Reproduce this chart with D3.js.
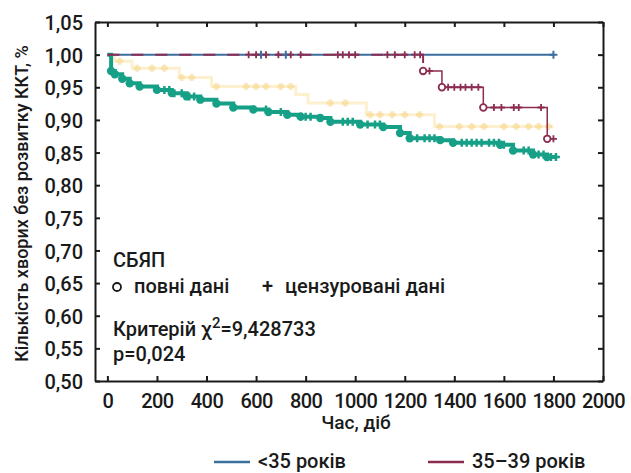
<!DOCTYPE html>
<html>
<head>
<meta charset="utf-8">
<script src="https://cdn.jsdelivr.net/npm/d3@7"></script>
<style>
  body { margin: 0; background: #fff; }
  svg { font-family: Roboto, "Noto Sans", sans-serif; font-weight: 500; }
  .axis path, .axis line { stroke: #1a1a1a; stroke-width: 2; }
  .axis text { font-size: 20px; fill: #1a1a1a; font-family: Roboto, sans-serif; font-weight: 500; }
  .label { fill: #1a1a1a; }
</style>
</head>
<body>
<script>
// data
const yTicks = [0.50, 0.55, 0.60, 0.65, 0.70, 0.75, 0.80, 0.85, 0.90, 0.95, 1.00, 1.05];
const xTicks = [0, 200, 400, 600, 800, 1000, 1200, 1400, 1600, 1800, 2000];

// <35 років
const blueTimes = [0, 1800];
const blueSurv = [1, 1];
const blueCens = [620, 720, 1800];

// 35-39 років
const redTimes = [0, 1274, 1350, 1517, 1775, 1800];
const redSurv = [1, 0.975, 0.95, 0.919, 0.871, 0.871];
const redEvents = [1274, 1350, 1517, 1775];
const redCens = [570, 600, 640, 690, 740, 780, 930, 950, 975, 1000, 1130, 1160, 1200, 1240, 1262,
                 1300, 1375, 1400, 1425, 1445, 1470, 1497, 1560, 1590, 1640, 1660, 1750, 1800];

// third group (faint yellow)
const yelTimes = [0, 30, 100, 290, 420, 760, 810, 1045, 1320, 1800];
const yelSurv = [1, 0.99, 0.979, 0.965, 0.951, 0.939, 0.926, 0.908, 0.89, 0.89];
const yelCens = [50, 120, 180, 230, 300, 340, 440, 560, 600, 640, 700, 740, 900, 960, 1060, 1100,
                 1150, 1200, 1260, 1340, 1420, 1470, 1520, 1600, 1650, 1700, 1740, 1780];

// main group (teal)
const tealTimes = [0, 15, 30, 60, 90, 130, 200, 260, 320, 375, 440, 508, 589, 650, 726, 780, 859,
                   900, 1020, 1113, 1181, 1220, 1343, 1395, 1585, 1637, 1718, 1774, 1815];
const tealSurv = [1, 0.975, 0.97, 0.963, 0.956, 0.951, 0.946, 0.941, 0.936, 0.931, 0.925, 0.919,
                  0.916, 0.912, 0.908, 0.905, 0.903, 0.897, 0.893, 0.889, 0.880, 0.872, 0.869,
                  0.865, 0.862, 0.853, 0.847, 0.843, 0.843];
const tealCens = [230, 250, 270, 300, 330, 350, 640, 700, 780, 800, 820, 950, 970, 990, 1050, 1080,
                  1100, 1250, 1280, 1300, 1320, 1430, 1450, 1470, 1490, 1510, 1540, 1560, 1580,
                  1600, 1680, 1700, 1740, 1760, 1790, 1810];

const width = 631, height = 473;
const plot = { left: 95, right: 603, top: 22, bottom: 381 };

const x = d3.scaleLinear().domain([-50, 2000]).range([plot.left, plot.right]);
const y = d3.scaleLinear().domain([0.5, 1.05]).range([plot.bottom, plot.top]);

const svg = d3.select("body").append("svg")
    .attr("width", width)
    .attr("height", height);

function survAt(times, surv, t) {
    let v = surv[0];
    times.forEach((d, i) => { if (d <= t) v = surv[i]; });
    return v;
}

const line = d3.line()
    .x(d => x(d[0]))
    .y(d => y(d[1]))
    .curve(d3.curveStepAfter);

function plus(g, times, tt, ss, color, size, sw, op) {
    g.selectAll(null)
        .data(times)
        .join("path")
        .attr("d", t => {
            const cx = x(t), cy = y(survAt(tt, ss, t));
            return `M${cx - size},${cy}H${cx + size}M${cx},${cy - size}V${cy + size}`;
        })
        .attr("stroke", color)
        .attr("stroke-width", sw)
        .attr("opacity", op);
}

const marks = svg.append("g");

// yellow, very faint in the print
marks.append("path")
    .attr("d", line(d3.zip(yelTimes, yelSurv)))
    .attr("fill", "none")
    .attr("stroke", "#fdf0cf")
    .attr("stroke-width", 3);
plus(marks, yelCens, yelTimes, yelSurv, "#f8d68a", 3.5, 3.5, 0.6);

// teal
marks.append("path")
    .attr("d", line(d3.zip(tealTimes, tealSurv)))
    .attr("fill", "none")
    .attr("stroke", "#16a087")
    .attr("stroke-width", 4);
marks.selectAll(null)
    .data(tealTimes.slice(1, -1))
    .join("circle")
    .attr("cx", t => x(t))
    .attr("cy", (t, i) => y(tealSurv[i + 1]))
    .attr("r", 4.2)
    .attr("fill", "#16a087");
plus(marks, tealCens, tealTimes, tealSurv, "#16a087", 4, 2.5, 1);

// blue, solid
marks.append("path")
    .attr("d", line(d3.zip(blueTimes, blueSurv)))
    .attr("fill", "none")
    .attr("stroke", "#3b6f9f")
    .attr("stroke-width", 2);

// red: dashed where it overlaps the blue line at 1.00, solid after
const redPts = d3.zip(redTimes, redSurv);
marks.append("path")
    .attr("d", line(redPts.slice(0, 2)))
    .attr("fill", "none")
    .attr("stroke", "#8c2c50")
    .attr("stroke-width", 2)
    .attr("stroke-dasharray", "12,12");
marks.append("path")
    .attr("d", line(redPts.slice(1)))
    .attr("fill", "none")
    .attr("stroke", "#8c2c50")
    .attr("stroke-width", 1.5);

plus(marks, blueCens, blueTimes, blueSurv, "#3b6f9f", 4, 2, 1);
plus(marks, redCens, redTimes, redSurv, "#8c2c50", 3.5, 1.8, 1);
marks.selectAll(null)
    .data(redEvents)
    .join("circle")
    .attr("cx", t => x(t))
    .attr("cy", t => y(survAt(redTimes, redSurv, t)))
    .attr("r", 3.3)
    .attr("fill", "#fff")
    .attr("stroke", "#8c2c50")
    .attr("stroke-width", 1.8);

// axes, ticks inside
svg.append("g")
    .attr("class", "axis")
    .attr("transform", `translate(${plot.left},0)`)
    .call(d3.axisLeft(y).tickValues(yTicks).tickSizeInner(-5).tickSizeOuter(0).tickPadding(12)
        .tickFormat(d => d3.format(".2f")(d).replace(".", ",")))
    .call(g => g.selectAll("text").attr("dy", "0.38em"));

svg.append("g")
    .attr("class", "axis")
    .attr("transform", `translate(${plot.right},0)`)
    .call(d3.axisRight(y).tickValues(yTicks).tickSizeInner(-5).tickSizeOuter(0).tickFormat(""));

svg.append("g")
    .attr("class", "axis")
    .attr("transform", `translate(0,${plot.bottom})`)
    .call(d3.axisBottom(x).tickValues(xTicks).tickSizeInner(-5).tickSizeOuter(0).tickPadding(13)
        .tickFormat(d3.format("d")))
    .call(g => g.selectAll("text").attr("letter-spacing", "-0.6px"));

svg.append("g")
    .attr("class", "axis")
    .attr("transform", `translate(0,${plot.top})`)
    .call(d3.axisTop(x).tickValues(xTicks).tickSizeInner(-5).tickSizeOuter(0).tickFormat(""));

// axis titles
svg.append("text")
    .attr("class", "label")
    .attr("transform", "rotate(-90)")
    .attr("x", -(plot.top + plot.bottom) / 2 - 2)
    .attr("y", 28)
    .attr("text-anchor", "middle")
    .style("font-size", "18px")
    .text("Кількість хворих без розвитку ККТ, %");

svg.append("text")
    .attr("class", "label")
    .attr("x", 356)
    .attr("y", 429)
    .attr("text-anchor", "middle")
    .style("font-size", "19px")
    .text("Час, діб");

// annotations
const note = svg.append("g").attr("class", "label").style("font-size", "20px");
note.append("text").attr("x", 113).attr("y", 267).text("СБЯП");
note.append("circle").attr("cx", 117).attr("cy", 287).attr("r", 4)
    .attr("fill", "none").attr("stroke", "#1a1a1a").attr("stroke-width", 1.8);
note.append("text").attr("x", 134).attr("y", 293).text("повні дані");
note.append("text").attr("x", 262).attr("y", 293).text("+");
note.append("text").attr("x", 285).attr("y", 293).text("цензуровані дані");
const chi = note.append("text").attr("x", 113).attr("y", 336);
chi.append("tspan").text("Критерій χ");
chi.append("tspan").attr("dy", -8).style("font-size", "15px").text("2");
chi.append("tspan").attr("dy", 8).text("=9,428733");
note.append("text").attr("x", 113).attr("y", 361).text("p=0,024");

// legend
const legendNames = ["<35 років", "35–39 років"];
const legendColors = ["#3b6f9f", "#8c2c50"];
const legendX = [214, 428];
const legend = svg.append("g").style("font-size", "20px");
legendNames.forEach((name, i) => {
    legend.append("line")
        .attr("x1", legendX[i]).attr("x2", legendX[i] + 36)
        .attr("y1", 462).attr("y2", 462)
        .attr("stroke", legendColors[i]).attr("stroke-width", 2.5);
    legend.append("text")
        .attr("class", "label")
        .attr("x", legendX[i] + 44)
        .attr("y", 468)
        .text(name);
});
</script>
</body>
</html>
